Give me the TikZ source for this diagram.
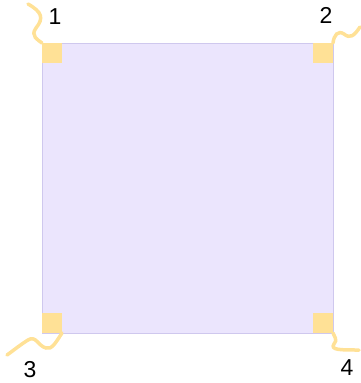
\documentclass[tikz,border=0pt]{standalone}
\usepackage{fontspec}
\setmainfont{Liberation Sans}
\definecolor{chipfill}{HTML}{EBE5FD}
\definecolor{chipline}{HTML}{CFC8EE}
\definecolor{padcol}{HTML}{FFE196}
\begin{document}
\begin{tikzpicture}[x=1pt,y=-1pt,
  pad/.style={fill=padcol,draw=none,minimum size=20pt,inner sep=0pt,outer sep=0pt},
  wire/.style={draw=padcol,line width=3.5pt,line cap=round},
  lbl/.style={font=\fontsize{23}{26}\selectfont,inner sep=0pt}]
\useasboundingbox (0,0) rectangle (361,383);
\node[fill=chipfill,draw=chipline,line width=0.6pt,minimum width=291pt,minimum height=290pt,inner sep=0pt,anchor=north west] (chip) at (42,43) {};
\node[pad,anchor=north west] (p1) at (42,43) {};
\node[pad,anchor=north east] (p2) at (333,43) {};
\node[pad,anchor=south west] (p3) at (42,333) {};
\node[pad,anchor=south east] (p4) at (333,333) {};
\coordinate (e1) at (28,4);
\coordinate (e2) at (360,27);
\coordinate (e3) at (7,355);
\coordinate (e4) at (359,350);
\draw[wire] (p1.north west) .. controls (38,40) and (30,36) .. (36,28) .. controls (44,18) and (42,12) .. (e1);
\draw[wire] (p2.north east) .. controls (334,35) and (338,30) .. (344,34) .. controls (350,39) and (354,36) .. (e2);
\draw[wire] (p3.south east) .. controls (56,342) and (52,350) .. (46,348) .. controls (38,346) and (36,335) .. (28,340) .. controls (20,345) and (14,350) .. (e3);
\draw[wire] (p4.south east) .. controls (334,336) and (338,340) .. (334,344) .. controls (330,350) and (340,350) .. (e4);
\node[lbl] (l1) at (55,17) {1};
\node[lbl] (l2) at (326,15) {2};
\node[lbl] (l3) at (30,370) {3};
\node[lbl] (l4) at (347,368) {4};
\end{tikzpicture}
\end{document}
